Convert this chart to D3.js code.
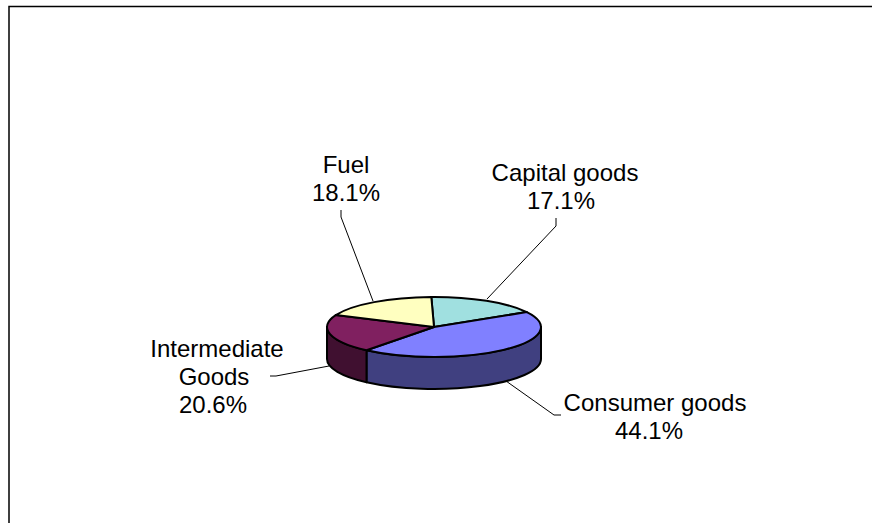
<!DOCTYPE html>
<html>
<head>
<meta charset="utf-8">
<script src="https://cdn.jsdelivr.net/npm/d3@7"></script>
<style>
  html, body { margin: 0; padding: 0; background: #fff; }
  svg { display: block; }
  .lbl { font-family: "Liberation Sans", Arial, sans-serif; font-size: 24px; fill: #000; text-anchor: middle; }
</style>
</head>
<body>
<div id="chart"></div>
<script>
// Data
var categories = ["Capital goods", "Consumer goods", "Intermediate Goods", "Fuel"];
var shares = [17.1, 44.1, 20.6, 18.1];
var topColors = ["#a0e0e0", "#8080ff", "#802060", "#ffffc0"];
var sideColors = ["#507070", "#404080", "#401030", "#808060"];

var width = 872;
var height = 523;

var svg = d3.select("#chart").append("svg")
  .attr("width", width)
  .attr("height", height);

// Frame, cut by the window on the right and bottom
svg.append("path")
  .attr("d", "M9,523V6.5H872")
  .attr("fill", "none")
  .attr("stroke", "#000")
  .attr("stroke-width", 1.5);

// Pie geometry
var cx = 434, cy = 327, rx = 107, ry = 30, depth = 32;

var pie = d3.pie().sort(null).value(function(d) { return d; })
  .startAngle(-0.025).endAngle(2 * Math.PI - 0.025);
var slices = pie(shares);

function px(a) { return cx + rx * Math.sin(a); }
function py(a) { return cy - ry * Math.cos(a); }

// Top face of one slice
function topPath(d) {
  var large = d.endAngle - d.startAngle > Math.PI ? 1 : 0;
  return "M" + cx + "," + cy +
    "L" + px(d.startAngle) + "," + py(d.startAngle) +
    "A" + rx + "," + ry + " 0 " + large + " 1 " + px(d.endAngle) + "," + py(d.endAngle) + "Z";
}

// Wall of the part of a slice that faces the viewer (angles 90deg to 270deg)
function sidePath(d) {
  var a0 = Math.max(d.startAngle, Math.PI / 2);
  var a1 = Math.min(d.endAngle, 3 * Math.PI / 2);
  if (a1 <= a0) return null;
  return "M" + px(a0) + "," + py(a0) +
    "A" + rx + "," + ry + " 0 0 1 " + px(a1) + "," + py(a1) +
    "V" + (py(a1) + depth) +
    "A" + rx + "," + ry + " 0 0 0 " + px(a0) + "," + (py(a0) + depth) + "Z";
}

var pieG = svg.append("g")
  .attr("stroke", "#000")
  .attr("stroke-width", 2)
  .attr("stroke-linejoin", "round");

pieG.selectAll("path.side")
  .data(slices.filter(function(d) { return sidePath(d); }))
  .enter()
  .append("path")
  .attr("class", "side")
  .attr("d", sidePath)
  .attr("fill", function(d) { return sideColors[d.index]; });

pieG.selectAll("path.top")
  .data(slices)
  .enter()
  .append("path")
  .attr("class", "top")
  .attr("d", topPath)
  .attr("fill", function(d) { return topColors[d.index]; });

// Leader lines, each with a short elbow by the label
var leaders = [
  [[556, 218], [556, 226], [487, 299]],
  [[561, 415], [554, 415], [506, 381]],
  [[270, 376], [276, 376], [329, 366]],
  [[341, 210], [341, 217], [373, 301]]
];
svg.selectAll("polyline.leader")
  .data(leaders)
  .enter()
  .append("polyline")
  .attr("class", "leader")
  .attr("points", function(d) { return d.join(" "); })
  .attr("fill", "none")
  .attr("stroke", "#000")
  .attr("stroke-width", 1);

// Labels: name lines then the share, the lower lines sit a little left of the first
var labelLines = [["Capital goods"], ["Consumer goods"], ["Intermediate", "Goods"], ["Fuel"]];
var labelPos = [[565, 181], [655, 411], [217, 357], [346, 173]];
var lineShift = [[0, -4], [0, -6], [0, -3, -4], [0, 0]];

labelLines.forEach(function(lines, i) {
  var t = svg.append("text").attr("class", "lbl");
  lines.concat([shares[i].toFixed(1) + "%"]).forEach(function(s, j) {
    t.append("tspan")
      .attr("x", labelPos[i][0] + lineShift[i][j])
      .attr("y", labelPos[i][1] + j * 28)
      .text(s);
  });
});
</script>
</body>
</html>
